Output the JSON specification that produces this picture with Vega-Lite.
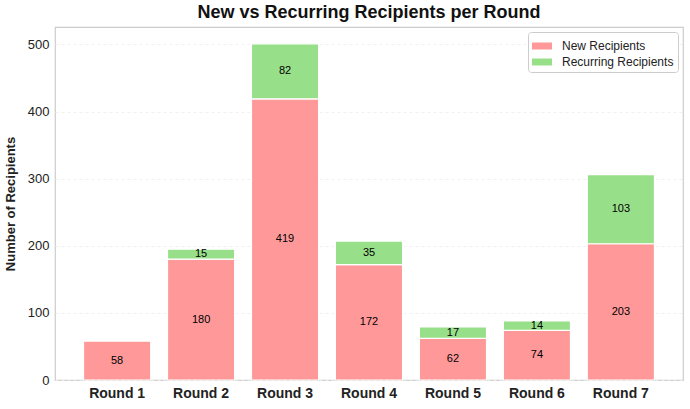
{
  "$schema": "https://vega.github.io/schema/vega-lite/v6.json",
  "width": 628,
  "height": 353,
  "autosize": {"type": "none"},
  "padding": {"left": 55, "top": 27, "right": 7, "bottom": 29},
  "background": "white",
  "config": {
    "font": "Liberation Sans",
    "view": {"stroke": "#cccccc", "strokeWidth": 1.2},
    "axis": {"domain": false, "ticks": false, "labelColor": "#222", "titleColor": "#222"}
  },
  "title": {"text": "New vs Recurring Recipients per Round", "fontSize": 18, "fontWeight": "bold", "color": "#111", "offset": 5, "font": "Liberation Sans"},
  "data": {
    "values": [
      {"round": "Round 1", "type": "New Recipients", "count": 58},
      {"round": "Round 2", "type": "New Recipients", "count": 180},
      {"round": "Round 2", "type": "Recurring Recipients", "count": 15},
      {"round": "Round 3", "type": "New Recipients", "count": 419},
      {"round": "Round 3", "type": "Recurring Recipients", "count": 82},
      {"round": "Round 4", "type": "New Recipients", "count": 172},
      {"round": "Round 4", "type": "Recurring Recipients", "count": 35},
      {"round": "Round 5", "type": "New Recipients", "count": 62},
      {"round": "Round 5", "type": "Recurring Recipients", "count": 17},
      {"round": "Round 6", "type": "New Recipients", "count": 74},
      {"round": "Round 6", "type": "Recurring Recipients", "count": 14},
      {"round": "Round 7", "type": "New Recipients", "count": 203},
      {"round": "Round 7", "type": "Recurring Recipients", "count": 103}
    ]
  },
  "transform": [
    {"calculate": "datum.type === 'New Recipients' ? 0 : 1", "as": "ord"},
    {"stack": "count", "groupby": ["round"], "sort": [{"field": "ord", "order": "ascending"}], "as": ["y0", "y1"]},
    {"calculate": "(datum.y0 + datum.y1) / 2", "as": "mid"}
  ],
  "encoding": {
    "x": {
      "field": "round", "type": "nominal", "title": null,
      "scale": {"paddingInner": 0.2, "paddingOuter": 0.34},
      "axis": {"labelAngle": 0, "labelFontSize": 14, "labelFontWeight": "bold", "labelPadding": 6, "grid": false}
    }
  },
  "layer": [
    {
      "mark": {"type": "bar", "stroke": "white", "strokeWidth": 1.2},
      "encoding": {
        "y": {
          "field": "y0", "type": "quantitative",
          "scale": {"domain": [0, 526], "nice": false},
          "title": "Number of Recipients",
          "axis": {"values": [0, 100, 200, 300, 400, 500], "labelFontSize": 13, "titleFontSize": 13, "titleFontWeight": "bold", "labelPadding": 6, "titlePadding": 10, "gridColor": "#eeeeee", "gridDash": [3, 3], "gridWidth": 0.8}
        },
        "y2": {"field": "y1"},
        "color": {
          "field": "type", "type": "nominal",
          "scale": {"domain": ["New Recipients", "Recurring Recipients"], "range": ["#ff9999", "#98df8a"]},
          "legend": {
            "title": null, "orient": "top-right", "offset": 5,
            "symbolType": "M-1,-0.35H1V0.35H-1Z", "symbolSize": 400, "symbolStrokeWidth": 0,
            "labelFontSize": 12, "labelColor": "#222", "labelOffset": 10,
            "fillColor": "white", "strokeColor": "#cccccc", "cornerRadius": 3, "padding": 4, "rowPadding": -3
          }
        }
      }
    },
    {
      "mark": {"type": "text", "fontSize": 11, "color": "black", "baseline": "middle"},
      "encoding": {
        "y": {"field": "mid", "type": "quantitative"},
        "text": {"field": "count", "type": "quantitative"}
      }
    }
  ]
}
